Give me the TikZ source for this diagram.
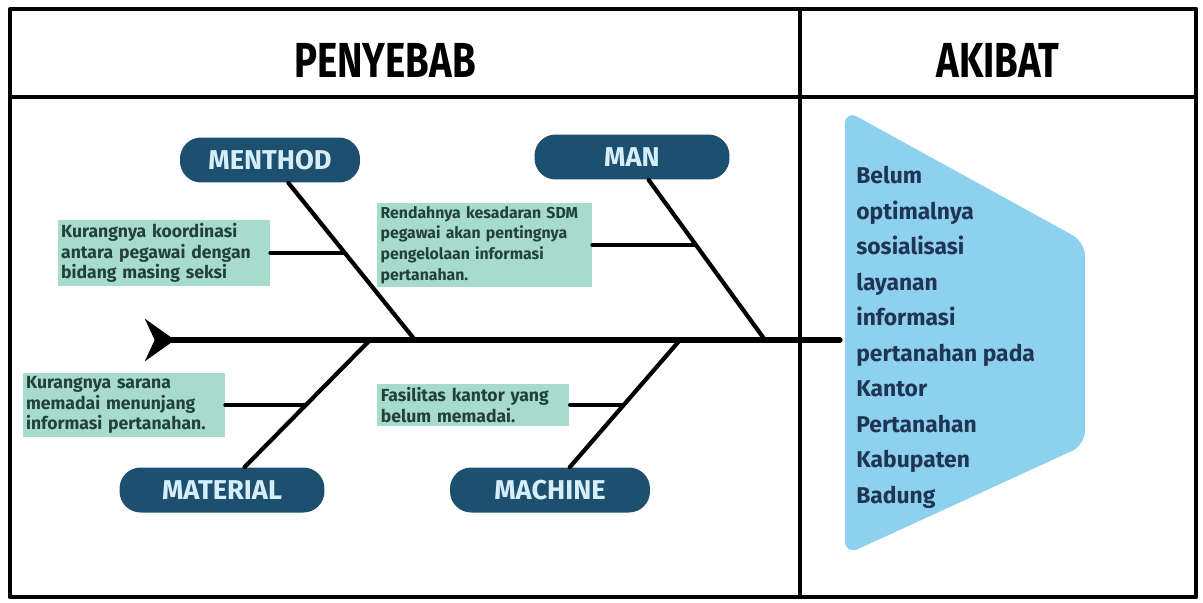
\documentclass[tikz,border=0pt]{standalone}
\usepackage{fontspec}
\setmainfont{Fira Sans}
\newfontfamily\headfont[FakeStretch=0.78]{Fira Sans}
\usetikzlibrary{positioning,calc,arrows.meta}
\definecolor{boxnavy}{HTML}{1D4F6E}
\definecolor{boxtext}{HTML}{D6EEFA}
\definecolor{notegreen}{HTML}{A7DBCC}
\definecolor{notetext}{HTML}{23413A}
\definecolor{effectblue}{HTML}{8DD1EF}
\definecolor{effecttext}{HTML}{1F3553}

\begin{document}
\begin{tikzpicture}[
					x=0.02cm,y=-0.02cm,
					>=Stealth,
					line cap=round,line join=round,
					catbox/.style={fill=boxnavy, text=boxtext, rounded corners=12pt,
						minimum width=3.9cm, minimum height=0.9cm, inner sep=0pt,
						font=\fontsize{15.5}{15.5}\selectfont\bfseries},
					note/.style={fill=notegreen, text=notetext, align=left, inner sep=2pt,
						anchor=east, font=\fontsize{10}{11.8}\selectfont\bfseries},
					headtext/.style={font=\fontsize{28}{28}\selectfont\headfont\bfseries},
					bone/.style={black, line width=2.4pt},
					twig/.style={black, line width=1.8pt}
					]
					\useasboundingbox (0,0) rectangle (1203,602);
					
					%----- frame
					\draw[line width=2.6pt] (10,9) rectangle (1196,597);
					\draw[line width=2.2pt] (10,97) -- (1196,97);
					\draw[line width=2.4pt] (800,9) -- (800,597);
					
					\node[headtext] (hdrCause) at (385,60) {PENYEBAB};
					\node[headtext] (hdrEffect) at (998,60) {AKIBAT};
					
					%----- effect
					\fill[effectblue, rounded corners=8pt]
					(845,110) -- (1085,242) -- (1085,445) -- (845,555) -- cycle;
					\node[anchor=north west, align=left, inner sep=0pt, text=effecttext,
					font=\fontsize{13}{20.2}\selectfont\bfseries] (effect) at (856,166)
					{Belum\\optimalnya\\sosialisasi\\layanan\\informasi\\pertanahan pada\\Kantor\\Pertanahan\\Kabupaten\\Badung};
					
					%----- spine
					\coordinate (tail) at (145,340);
					\coordinate (head) at (840,340);
					\draw[black, line width=3pt, {Stealth[reversed,length=17pt,width=24pt]}-] (tail) -- (head);
					
					%----- category boxes
					\node[catbox, minimum width=3.6cm] (boxMethod) at (270,160) {MENTHOD};
					\node[catbox] (boxMan) at (632,157) {MAN};
					\node[catbox, minimum width=4.1cm] (boxMaterial) at (222,490) {MATERIAL};
					\node[catbox, minimum width=4.0cm] (boxMachine) at (550,490) {MACHINE};
					
					%----- bones
					\coordinate (mEnd) at (415,340);
					\coordinate (nEnd) at (765,340);
					\coordinate (tEnd) at (370,340);
					\coordinate (cEnd) at (680,340);
					\draw[bone] (boxMethod) -- (mEnd);
					\draw[bone] (boxMan) -- (nEnd);
					\draw[bone] (boxMaterial) -- (tEnd);
					\draw[bone] (boxMachine) -- (cEnd);
					
					\coordinate (mJ) at ($(boxMethod)!0.517!(mEnd)$);
					\coordinate (nJ) at ($(boxMan)!0.481!(nEnd)$);
					\coordinate (tJ) at ($(boxMaterial)!0.567!(tEnd)$);
					\coordinate (cJ) at ($(boxMachine)!0.567!(cEnd)$);
					
					%----- causes
					\node[note, text width=4.1cm] (noteMethod) at ($(mJ)+(-75,0)$)
					{Kurangnya koordinasi\\antara pegawai dengan\\bidang masing seksi};
					\node[note, text width=4.15cm, font=\fontsize{9}{11.8}\selectfont\bfseries] (noteMan) at ($(nJ)+(-104,0)$)
					{Rendahnya kesadaran SDM\\pegawai akan pentingnya\\pengelolaan informasi\\pertanahan.};
					\node[note, text width=3.9cm] (noteMaterial) at ($(tJ)+(-81,0)$)
					{Kurangnya sarana\\memadai menunjang\\informasi pertanahan.};
					\node[note, text width=3.7cm] (noteMachine) at ($(cJ)+(-54,0)$)
					{Fasilitas kantor yang\\belum memadai.};
					
					\draw[twig] (noteMethod) -- (mJ);
					\draw[twig] (noteMan) -- (nJ);
					\draw[twig] (noteMaterial) -- (tJ);
					\draw[twig] (noteMachine) -- (cJ);
					
				\end{tikzpicture}
\end{document}
